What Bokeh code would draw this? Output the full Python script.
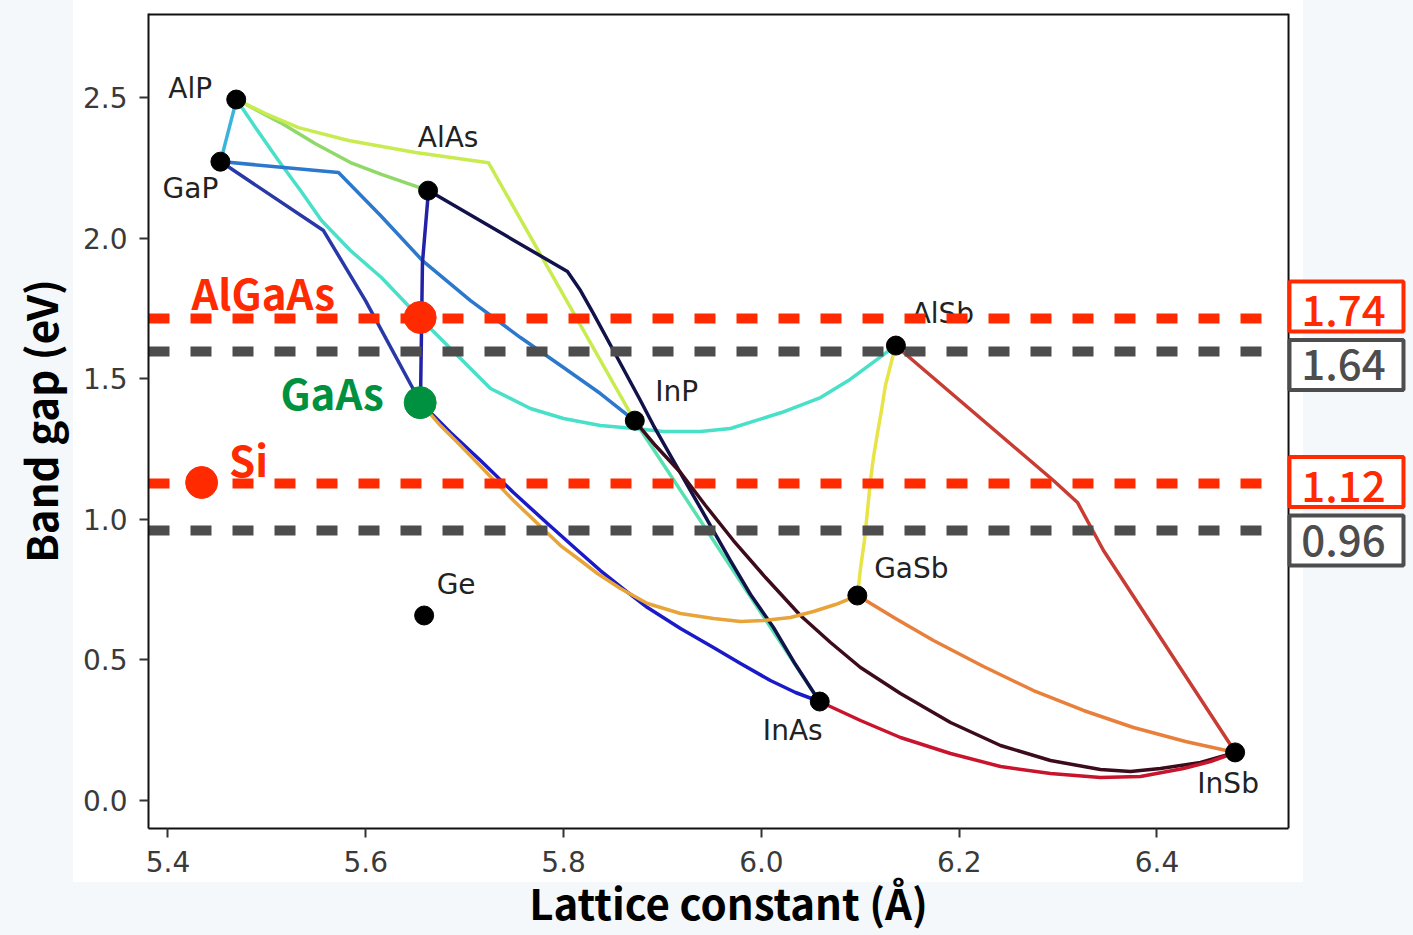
from bokeh.plotting import figure
from bokeh.models import ColumnDataSource, FixedTicker, Range1d
from bokeh.core.properties import value
from bokeh.embed import file_html
from bokeh.resources import INLINE

# ---- binary compounds (lattice constant in Angstrom, band gap in eV) ----
binary_names = ["AlP", "GaP", "AlAs", "AlSb", "InP", "GaSb", "InAs", "InSb", "Ge"]
binary_a = [5.469, 5.453, 5.663, 6.136, 5.872, 6.097, 6.059, 6.479, 5.659]
binary_eg = [2.493, 2.272, 2.169, 1.618, 1.351, 0.729, 0.352, 0.171, 0.658]

# ---- ternary alloy curves ----
algap_x = [5.4693, 5.4531]
algap_y = [2.4929, 2.2724]
alasp_x = [5.4693, 5.5137, 5.5491, 5.5845, 5.6158, 5.6634]
alasp_y = [2.4929, 2.411, 2.336, 2.269, 2.227, 2.1693]
alinp_x = [5.4693, 5.4986, 5.5320, 5.5825, 5.6503, 5.7241, 5.8717]
alinp_y = [2.4929, 2.4431, 2.3933, 2.3471, 2.3044, 2.2681, 1.3514]
alpsb_x = [5.4693, 5.4905, 5.5117, 5.5340, 5.5552, 5.5845, 5.6158, 5.6553, 5.6856, 5.7261, 5.7665,
           5.7999, 5.8372, 5.8717, 5.9010, 5.9384, 5.9687, 6.0203, 6.0598, 6.0880, 6.1154, 6.1356]
alpsb_y = [2.4929, 2.3826, 2.2760, 2.1693, 2.0626, 1.9559, 1.8599, 1.7141, 1.6074, 1.4652, 1.3940,
           1.3585, 1.3336, 1.3229, 1.3122, 1.3122, 1.3229, 1.3798, 1.4331, 1.4936, 1.5647, 1.6181]
gainp_x = [5.4531, 5.5724, 5.6149, 5.6573, 5.7059, 5.7564, 5.7999, 5.8372, 5.8717]
gainp_y = [2.2724, 2.2333, 2.0804, 1.9203, 1.7781, 1.6465, 1.5398, 1.4474, 1.3514]
gaasp_x = [5.4531, 5.5572, 5.5997, 5.6553]
gaasp_y = [2.2724, 2.027, 1.7781, 1.4154]
algaas_x = [5.6634, 5.6573, 5.6553]
algaas_y = [2.1693, 1.913, 1.4154]
alinas_x = [5.6634, 5.8039, 5.8171, 5.8302, 5.8504, 5.8777, 5.8909, 5.9081, 5.9283, 5.9485, 5.9687,
            5.9890, 6.0122, 6.0345, 6.0587]
alinas_y = [2.1693, 1.8812, 1.8137, 1.7319, 1.6003, 1.4225, 1.3336, 1.2269, 1.1024, 0.9780, 0.8535,
            0.7326, 0.6152, 0.4836, 0.3521]
inasp_x = [5.8717, 6.0587]
inasp_y = [1.3514, 0.3521]
inpsb_x = [5.8717, 5.8929, 5.9182, 5.9435, 5.9717, 6.0042, 6.0395, 6.0699, 6.1002, 6.1406, 6.1912,
           6.2418, 6.2923, 6.3428, 6.3732, 6.4035, 6.4440, 6.4794]
inpsb_y = [1.3514, 1.2624, 1.1664, 1.0491, 0.9246, 0.7930, 0.6579, 0.5619, 0.4730, 0.3805, 0.2774,
           0.1956, 0.1422, 0.1102, 0.1031, 0.1138, 0.1351, 0.1707]
gainas_x = [5.6553, 5.6856, 5.7160, 5.7493, 5.7837, 5.8120, 5.8372, 5.8626, 5.8848, 5.9182, 5.9515,
            5.9789, 6.0091, 6.0345, 6.0587]
gainas_y = [1.4154, 1.3087, 1.2091, 1.0953, 0.9851, 0.8962, 0.8179, 0.7468, 0.6863, 0.6117, 0.5441,
            0.4872, 0.4267, 0.3841, 0.3521]
gaassb_x = [5.6553, 5.6755, 5.6958, 5.7231, 5.7493, 5.7736, 5.7969, 5.8171, 5.8342, 5.8575, 5.8848,
            5.9182, 5.9515, 5.9789, 6.0021, 6.0294, 6.0526, 6.0749, 6.0972]
gaassb_y = [1.4154, 1.3336, 1.2624, 1.1629, 1.0669, 0.9851, 0.9068, 0.8535, 0.8073, 0.7539, 0.7006,
            0.6650, 0.6472, 0.6366, 0.6401, 0.6508, 0.6721, 0.6970, 0.7290]
algasb_x = [6.1356, 6.1305, 6.1254, 6.1214, 6.1173, 6.1133, 6.1103, 6.1073, 6.1042, 6.1002, 6.0972]
algasb_y = [1.6181, 1.5469, 1.4758, 1.3869, 1.3051, 1.2198, 1.1380, 1.0313, 0.9246, 0.8250, 0.7290]
alinsb_x = [6.1356, 6.2953, 6.3196, 6.3459, 6.4794]
alinsb_y = [1.6181, 1.138, 1.060, 0.889, 0.1707]
gainsb_x = [6.0972, 6.1356, 6.1740, 6.2246, 6.2751, 6.3257, 6.3762, 6.4288, 6.4794]
gainsb_y = [0.7290, 0.6472, 0.5690, 0.4765, 0.3912, 0.3201, 0.2596, 0.2098, 0.1707]
inassb_x = [6.0587, 6.1002, 6.1406, 6.1912, 6.2418, 6.2923, 6.3428, 6.3833, 6.4268, 6.4541, 6.4794]
inassb_y = [0.3521, 0.2845, 0.2240, 0.1671, 0.1209, 0.0960, 0.0818, 0.0853, 0.1138, 0.1387, 0.1707]

# ---- highlighted materials ----
hl_names = ["AlGaAs", "GaAs", "Si"]
hl_a = [5.655, 5.655, 5.434]
hl_eg = [1.718, 1.415, 1.131]

# ---- reference band-gap lines ----
ref_vals = [1.714, 1.597, 1.127, 0.960]
ref_labels = ["1.74", "1.64", "1.12", "0.96"]

x_ticks = [5.4, 5.6, 5.8, 6.0, 6.2, 6.4]
x_tick_labels = ["5.4", "5.6", "5.8", "6.0", "6.2", "6.4"]
y_ticks = [0.0, 0.5, 1.0, 1.5, 2.0, 2.5]
y_tick_labels = ["0.0", "0.5", "1.0", "1.5", "2.0", "2.5"]

x_title = "Lattice constant (Å)"
y_title = "Band gap (eV)"

# ---- styles / layout ----
RED = "#ff2a00"
GRAY = "#4d4d4d"
GREEN = "#009140"
CJK = "Noto Sans CJK SC"
CJK_MED = "'Noto Sans CJK SC Medium', 'Noto Sans CJK SC'"

curves = [
    (algap_x, algap_y, "#3ab4dc"),
    (alasp_x, alasp_y, "#90d868"),
    (alinp_x, alinp_y, "#c8ec50"),
    (alpsb_x, alpsb_y, "#48e0c8"),
    (gainp_x, gainp_y, "#2c78cc"),
    (gaasp_x, gaasp_y, "#2838a8"),
    (algaas_x, algaas_y, "#2222a8"),
    (inasp_x, inasp_y, "#58e0b0"),
    (alinas_x, alinas_y, "#12124a"),
    (inpsb_x, inpsb_y, "#3c0c1c"),
    (gainas_x, gainas_y, "#1a1ac8"),
    (gaassb_x, gaassb_y, "#e8a438"),
    (algasb_x, algasb_y, "#e8e448"),
    (alinsb_x, alinsb_y, "#c83c34"),
    (gainsb_x, gainsb_y, "#e8803c"),
    (inassb_x, inassb_y, "#c8142c"),
]

label_dx = [-46, -30, 20, 47, 42, 54, -27, -7, 32]
label_dy = [-11, 27, -53, -32, -29, -27, 29, 31, -31]
hl_colors = [RED, GREEN, RED]
hl_dx = [-157, -88, 47]
hl_dy = [-26, -11, -24]
ref_colors = [RED, GRAY, RED, GRAY]
box_x = 6.5916
box_y = [1.757, 1.549, 1.133, 0.925]
box_text_dy = [4, 0, 5, 0]
TITLE_PAD = "\u00a0" * 11   # shifts the centred x title left, under the drawn frame

X0, XF, XR = 5.3803, 6.533, 6.65935   # frame start, drawn frame edge, canvas right edge
Y0, Y1 = -0.0996, 2.799
DASH_END = 6.5148

p = figure(width=1413, height=935, output_backend="svg", toolbar_location=None,
           x_range=Range1d(X0, XR), y_range=Range1d(Y0, Y1),
           min_border_left=148, min_border_right=0, min_border_top=13, min_border_bottom=107)
p.border_fill_color = None
p.background_fill_color = None
p.styles = {"background": "linear-gradient(#ffffff, #ffffff) 73px 0px / 1230px 882px no-repeat, #f4f8fb"}
p.outline_line_color = None
p.grid.visible = False

for ax in (p.xaxis[0], p.yaxis[0]):
    ax.axis_line_color = "#111111"
    ax.axis_line_width = 2
    ax.major_tick_line_color = "#333333"
    ax.major_tick_line_width = 2
    ax.major_tick_out = 9
    ax.major_tick_in = 0
    ax.minor_tick_line_color = None
    ax.major_label_text_font = "DejaVu Sans"
    ax.major_label_text_font_size = "28px"
    ax.major_label_text_color = "#3a3a3a"
    ax.axis_label_text_font = CJK
    ax.axis_label_text_font_style = "bold"
    ax.axis_label_text_font_size = "42px"
    ax.axis_label_text_color = "black"
p.xaxis.bounds = (X0, XF)
p.xaxis.major_label_standoff = 13
p.yaxis.major_label_standoff = 12
p.xaxis.axis_label = x_title + TITLE_PAD
p.yaxis.axis_label = y_title
p.xaxis.axis_label_standoff = -4
p.yaxis.axis_label_standoff = 10
p.xaxis.ticker = FixedTicker(ticks=x_ticks)
p.yaxis.ticker = FixedTicker(ticks=y_ticks)
p.xaxis.major_label_overrides = dict(zip(x_ticks, x_tick_labels))
p.yaxis.major_label_overrides = dict(zip(y_ticks, y_tick_labels))

# frame edges (top and right)
p.segment(x0=[X0, XF], x1=[XF, XF], y0=[Y1, Y0], y1=[Y1, Y1], line_color="#111111",
          line_width=[4, 2])

for xs, ys, c in curves:
    p.line(xs, ys, line_color=c, line_width=3.5, line_join="round", line_cap="round")

lab_src = ColumnDataSource(dict(x=binary_a, y=binary_eg, t=binary_names, dx=label_dx, dy=label_dy))
p.text(x="x", y="y", text="t", x_offset="dx", y_offset="dy", source=lab_src,
       text_font=value("DejaVu Sans"), text_font_size="28px", text_color="#222222",
       text_align="center", text_baseline="middle")

p.segment(x0=[X0] * len(ref_vals), x1=[DASH_END] * len(ref_vals), y0=ref_vals, y1=ref_vals,
          line_color=ref_colors, line_width=10, line_dash="21 21")

p.scatter(binary_a, binary_eg, size=19, fill_color="black", line_color="black")

hl_src = ColumnDataSource(dict(x=hl_a, y=hl_eg, t=hl_names, c=hl_colors, dx=hl_dx, dy=hl_dy))
p.scatter(x="x", y="y", source=hl_src, size=32, fill_color="c", line_color="c")
p.text(x="x", y="y", text="t", x_offset="dx", y_offset="dy", source=hl_src,
       text_font=value(CJK), text_font_style="bold", text_font_size="42px", text_color="c",
       text_align="center", text_baseline="middle")

box_src = ColumnDataSource(dict(x=[box_x] * len(box_y), y=box_y, t=ref_labels, c=ref_colors,
                                dy=box_text_dy))
p.rect(x="x", y="y", width=114, height=50, width_units="screen", height_units="screen",
       source=box_src, fill_color="white", line_color="c", line_width=4)
p.text(x="x", y="y", text="t", x_offset=-3, y_offset="dy", source=box_src,
       text_font=value(CJK_MED), text_font_size="42px", text_color="c",
       text_align="center", text_baseline="middle")

open("out.html", "w").write(file_html(p, INLINE))
